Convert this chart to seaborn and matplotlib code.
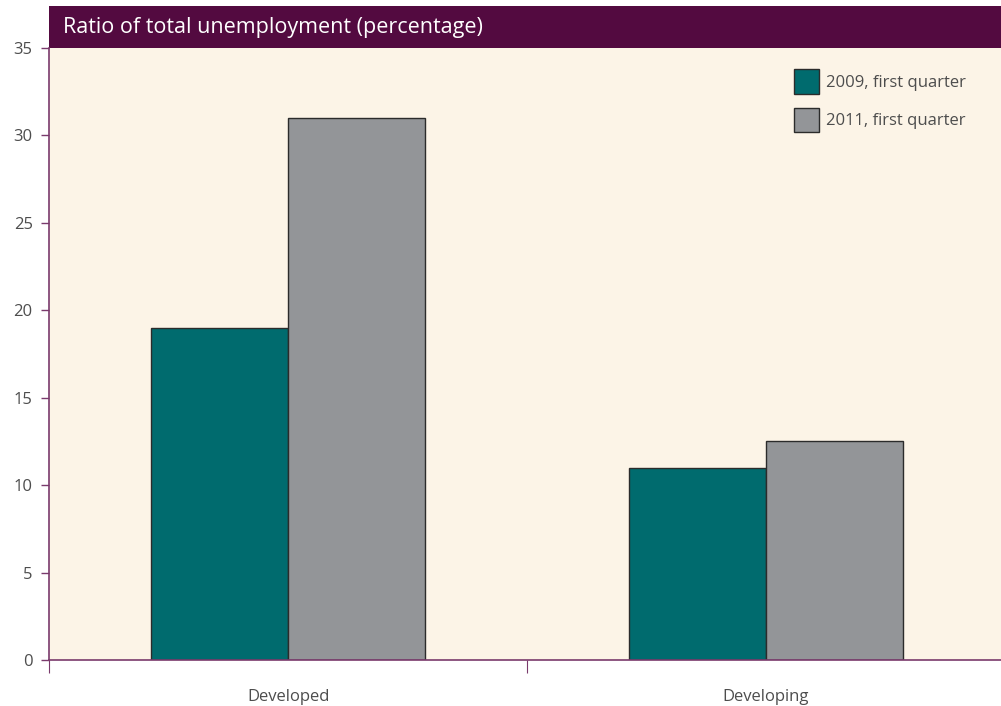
import matplotlib
matplotlib.use("Agg")
import matplotlib.pyplot as plt
import pandas as pd
import seaborn as sns
from matplotlib.patches import Rectangle

regions = ["Developed", "Developing"]
periods = ["2009, first quarter", "2011, first quarter"]
values_2009 = [19.0, 11.0]
values_2011 = [31.0, 12.5]
y_ticks = [0, 5, 10, 15, 20, 25, 30, 35]
title = "Ratio of total unemployment (percentage)"

PURPLE = "#530A40"
AXIS_PURPLE = "#7A3A6C"
TEAL = "#006B6E"
GREY = "#939598"
BG = "#FCF4E7"
TEXT = "#4D4D4D"

df = pd.DataFrame({
    "region": regions * 2,
    "period": [periods[0]] * 2 + [periods[1]] * 2,
    "value": values_2009 + values_2011,
})

sns.set_style("white")
plt.rcParams["font.family"] = ["Open Sans", "DejaVu Sans"]

fig = plt.figure(figsize=(10.01, 7.06), dpi=100)
ax = fig.add_axes([0.04925, 0.0652, 0.9543, 0.8669])
ax.set_facecolor(BG)

sns.barplot(
    data=df, x="region", y="value", hue="period",
    palette=[TEAL, GREY], width=0.574, saturation=1,
    edgecolor="#2B2B2B", linewidth=1.0, ax=ax,
)

ax.set_xlim(-0.5, 1.5)
ax.set_ylim(0, 35)
ax.set_yticks(y_ticks)
ax.set_xlabel("")
ax.set_ylabel("")

for side in ["top", "right"]:
    ax.spines[side].set_visible(False)
ax.spines["left"].set_color(AXIS_PURPLE)
ax.spines["bottom"].set_color(AXIS_PURPLE)
ax.spines["left"].set_linewidth(1.2)
ax.spines["bottom"].set_linewidth(1.2)

ax.tick_params(axis="y", direction="out", length=6, width=1, color=AXIS_PURPLE,
               labelsize=12, labelcolor=TEXT, pad=6, left=True)
ax.tick_params(axis="x", which="major", length=0, labelsize=12, labelcolor=TEXT, pad=21)
ax.set_xticks([-0.5, 0.5, 1.5], minor=True)
ax.tick_params(axis="x", which="minor", direction="out", length=9, width=0.8,
               color=AXIS_PURPLE, bottom=True)

# header band
ax.add_patch(Rectangle((0, 1.0), 1.0, 0.0678, transform=ax.transAxes,
                       facecolor=PURPLE, edgecolor="none", clip_on=False))
ax.text(0.0146, 1.0339, title, transform=ax.transAxes, color="white",
        fontsize=15.5, va="center", ha="left")

ax.legend(
    loc="upper left", bbox_to_anchor=(0.78, 0.9657), frameon=False,
    fontsize=12, handlelength=1.45, handleheight=1.9, labelspacing=0.85,
    handletextpad=0.45, borderpad=0, borderaxespad=0, labelcolor=TEXT,
)

fig.savefig("out.png", dpi=100, facecolor="white")
